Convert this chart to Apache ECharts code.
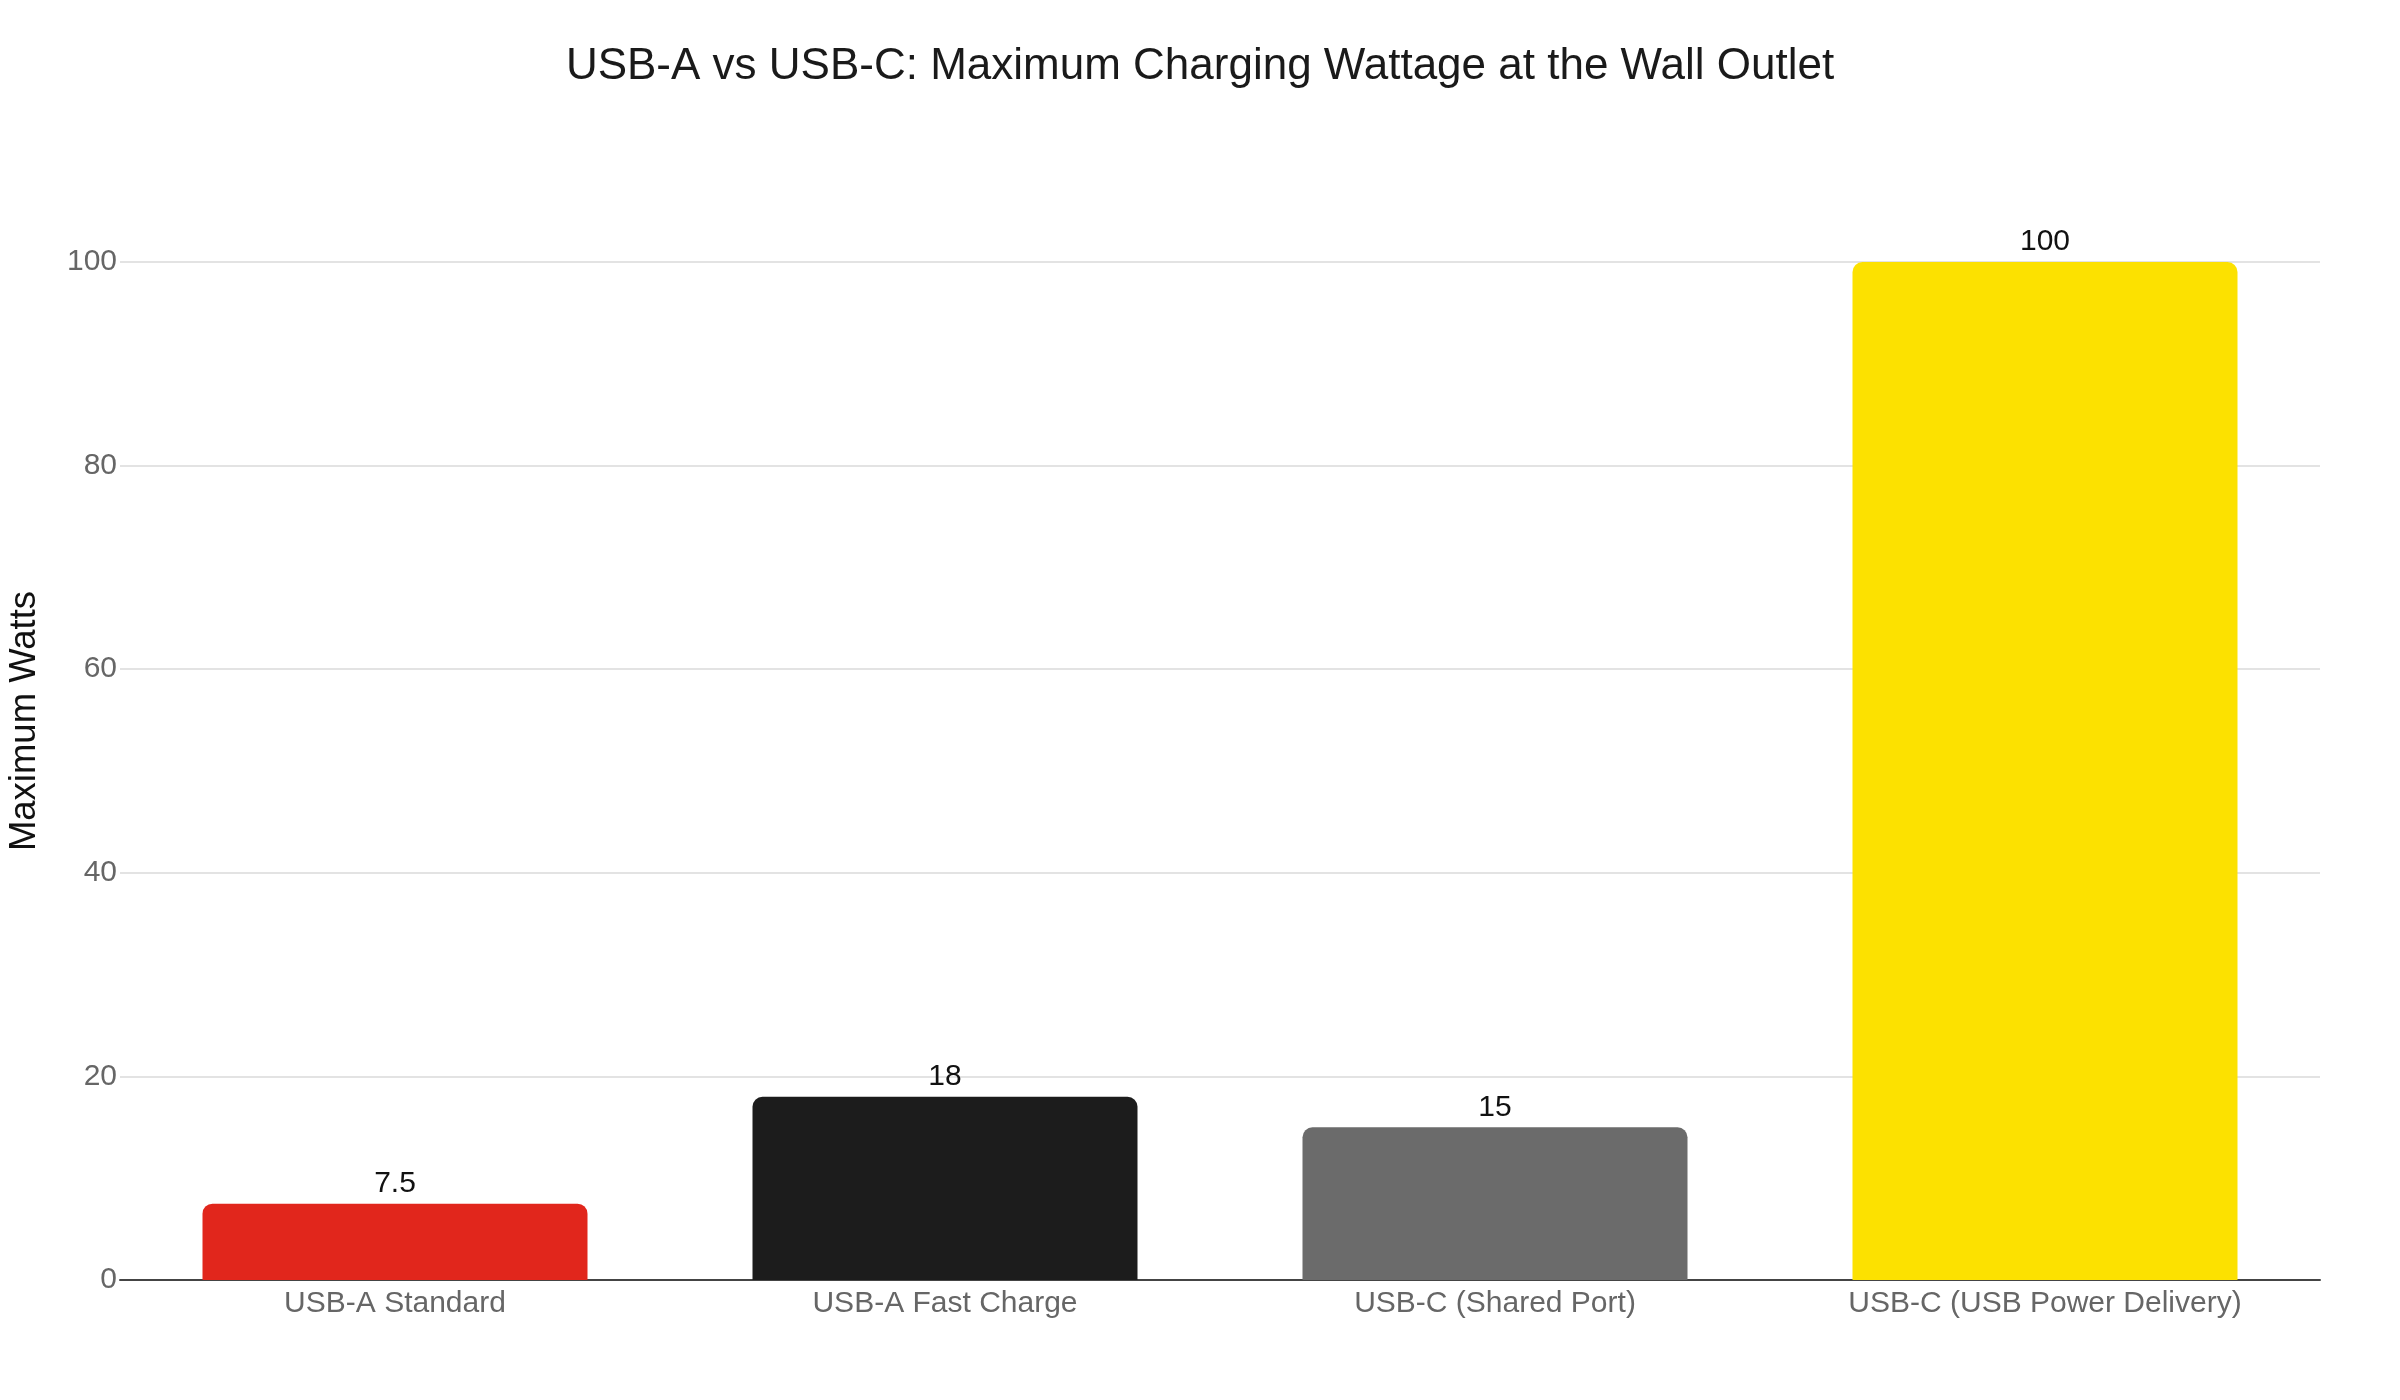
<!DOCTYPE html>
<html>
<head>
<meta charset="utf-8">
<script src="https://cdn.jsdelivr.net/npm/echarts@6/dist/echarts.min.js"></script>
<style>
  html, body { margin: 0; padding: 0; background: #ffffff; }
  #chart { width: 2400px; height: 1400px; }
</style>
</head>
<body>
<div id="chart"></div>
<script>
const titleText = 'USB-A vs USB-C: Maximum Charging Wattage at the Wall Outlet';
const yAxisTitle = 'Maximum Watts';
const categories = ['USB-A Standard', 'USB-A Fast Charge', 'USB-C (Shared Port)', 'USB-C (USB Power Delivery)'];
const watts = [7.5, 18, 15, 100];
const barColors = ['#E1261C', '#1C1C1C', '#6B6B6B', '#FCE100'];

const FONT = '"Liberation Sans", Arial, Helvetica, sans-serif';

const chart = echarts.init(document.getElementById('chart'), null, { renderer: 'canvas' });
chart.setOption({
  backgroundColor: '#ffffff',
  animation: false,
  title: {
    text: titleText,
    left: 'center',
    top: 40,
    textStyle: { fontFamily: FONT, fontSize: 44, fontWeight: 'normal', color: '#1a1a1a' }
  },
  grid: { left: 120, right: 80, top: 262, bottom: 120, containLabel: false, outerBoundsMode: 'none' },
  xAxis: {
    type: 'category',
    data: categories,
    axisLine: { show: true, lineStyle: { color: '#444444', width: 2 } },
    axisTick: { show: false },
    axisLabel: { fontFamily: FONT, fontSize: 30, color: '#666666', margin: 9 },
    splitLine: { show: false }
  },
  yAxis: {
    type: 'value',
    min: 0,
    max: 100,
    interval: 20,
    name: yAxisTitle,
    nameLocation: 'middle',
    nameGap: 77,
    nameRotate: 90,
    nameTextStyle: { fontFamily: FONT, fontSize: 36.5, color: '#111111', padding: [0, 0, 0, 100] },
    axisLine: { show: false },
    axisTick: { show: false },
    axisLabel: { fontFamily: FONT, fontSize: 30, color: '#666666', margin: 3 },
    splitLine: { show: true, lineStyle: { color: '#e3e3e3', width: 2 } }
  },
  series: [{
    type: 'bar',
    data: watts.map((v, i) => ({ value: v, itemStyle: { color: barColors[i] } })),
    barCategoryGap: '30%',
    itemStyle: { borderRadius: [10, 10, 0, 0] },
    label: {
      show: true,
      position: 'top',
      distance: 5,
      fontFamily: FONT,
      fontSize: 30,
      color: '#111111'
    },
    z: 3
  }]
});
</script>
</body>
</html>
